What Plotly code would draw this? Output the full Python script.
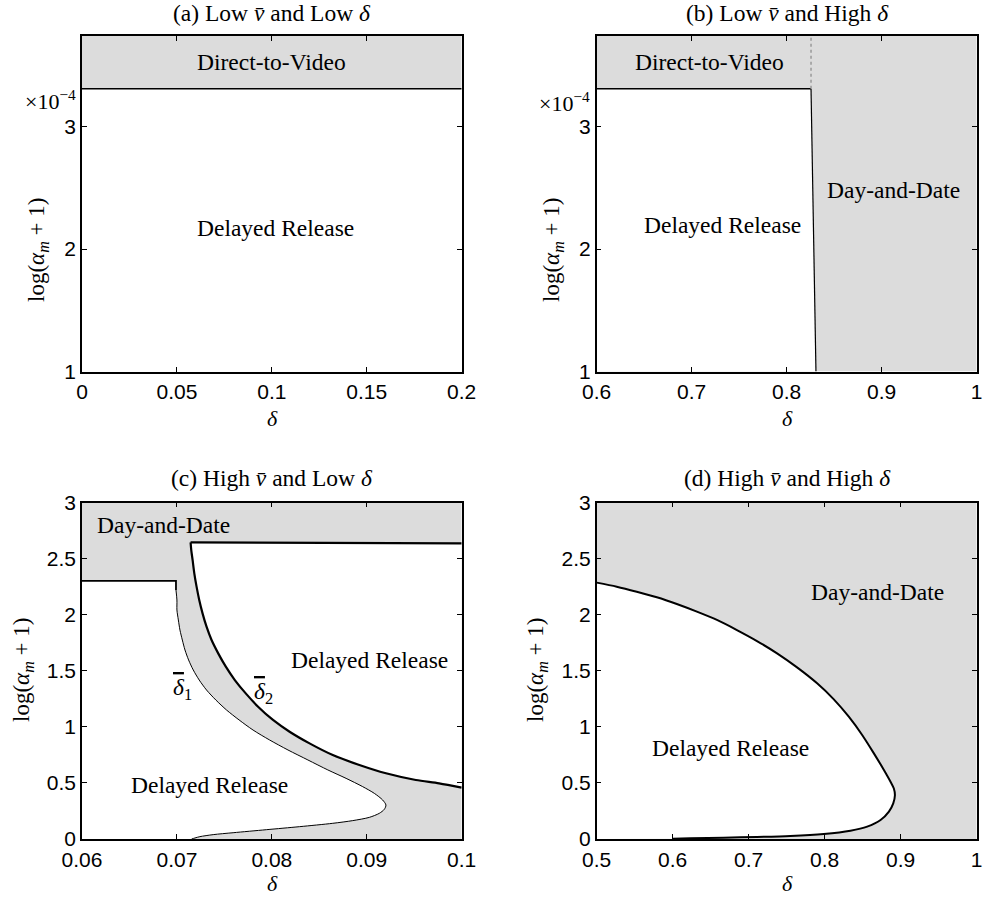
import plotly.graph_objects as go

GRAY = "#dcdcdc"
SERIF = "Liberation Serif"
SANS = "Liberation Sans"

# ---------------- data ----------------
# (a) Low v-bar, low delta  (alpha axis in units of 1e-4)
a_xrange = [0.0, 0.2]
a_yrange = [1.0, 3.74]
a_dtv = 3.31

# (b) Low v-bar, high delta
b_xrange = [0.6, 1.0]
b_yrange = [1.0, 3.74]
b_dtv = 3.31
b_dd_delta = [0.8256, 0.8308]
b_dd_alpha = [3.31, 1.0]

# (c) High v-bar, low delta
c_xrange = [0.06, 0.10]
c_yrange = [0.0, 3.0]
# delta-bar-1 boundary (starts with the flat day-and-date edge)
c_d1_delta = [0.0600, 0.0699, 0.0699, 0.0700, 0.0700, 0.07015, 0.07032, 0.07057, 0.07085,
              0.07123, 0.07172, 0.07235, 0.07312, 0.07410, 0.07522, 0.07655, 0.07802,
              0.07977, 0.08170, 0.08380, 0.08590, 0.08782, 0.08957, 0.09080, 0.09167,
              0.09202, 0.09185, 0.09132, 0.09027, 0.08852, 0.08642, 0.08292, 0.07942,
              0.07592, 0.07382, 0.07242, 0.07190, 0.07155]
c_d1_alpha = [2.302, 2.302, 2.221, 2.132, 2.043, 1.954, 1.864, 1.775, 1.686,
              1.597, 1.508, 1.418, 1.329, 1.240, 1.151, 1.062, 0.972,
              0.883, 0.794, 0.705, 0.616, 0.541, 0.467, 0.407, 0.348,
              0.303, 0.265, 0.229, 0.193, 0.164, 0.140, 0.110, 0.083,
              0.056, 0.039, 0.021, 0.009, 0.0]
# delta-bar-2 boundary (starts with the flat day-and-date edge)
c_d2_delta = [0.1000, 0.07144, 0.07151, 0.07165, 0.07183, 0.07207, 0.07235, 0.07270,
              0.07312, 0.07365, 0.07435, 0.07515, 0.07610, 0.07725, 0.07855, 0.08012,
              0.08187, 0.08397, 0.08642, 0.08922, 0.09202, 0.09517, 0.09762, 0.1000]
c_d2_alpha = [2.637, 2.646, 2.578, 2.489, 2.370, 2.251, 2.132, 2.013,
              1.894, 1.775, 1.656, 1.537, 1.418, 1.299, 1.180, 1.062,
              0.957, 0.853, 0.749, 0.660, 0.586, 0.526, 0.497, 0.458]

# (d) High v-bar, high delta
d_xrange = [0.5, 1.0]
d_yrange = [0.0, 3.0]
d_delta = [0.5000, 0.5264, 0.5527, 0.5791, 0.6054, 0.6318, 0.6582, 0.6845, 0.7109,
           0.7373, 0.7636, 0.7900, 0.8120, 0.8317, 0.8493, 0.8647, 0.8779, 0.8866,
           0.8910, 0.8924, 0.8902, 0.8845, 0.8735, 0.8559, 0.8339, 0.7988, 0.7548,
           0.7109, 0.6670, 0.6230, 0.6002]
d_alpha = [2.287, 2.251, 2.206, 2.156, 2.096, 2.028, 1.954, 1.864, 1.766,
           1.656, 1.531, 1.389, 1.246, 1.091, 0.928, 0.764, 0.616, 0.511,
           0.450, 0.390, 0.318, 0.244, 0.169, 0.110, 0.074, 0.045, 0.027,
           0.018, 0.012, 0.006, 0.003]

a_xticks = [0, 0.05, 0.1, 0.15, 0.2]
a_xtext = ["0", "0.05", "0.1", "0.15", "0.2"]
b_xticks = [0.6, 0.7, 0.8, 0.9, 1.0]
b_xtext = ["0.6", "0.7", "0.8", "0.9", "1"]
ab_yticks = [1, 2, 3]
ab_ytext = ["1", "2", "3"]
c_xticks = [0.06, 0.07, 0.08, 0.09, 0.10]
c_xtext = ["0.06", "0.07", "0.08", "0.09", "0.1"]
d_xticks = [0.5, 0.6, 0.7, 0.8, 0.9, 1.0]
d_xtext = ["0.5", "0.6", "0.7", "0.8", "0.9", "1"]
cd_yticks = [0, 0.5, 1, 1.5, 2, 2.5, 3]
cd_ytext = ["0", "0.5", "1", "1.5", "2", "2.5", "3"]

titles = ["(a) Low <i>v̄</i> and Low <i>δ</i>", "(b) Low <i>v̄</i> and High <i>δ</i>",
          "(c) High <i>v̄</i> and Low <i>δ</i>", "(d) High <i>v̄</i> and High <i>δ</i>"]

W, H = 984, 898
fig = go.Figure()


def rect(xr, yr):
    return [xr[0], xr[1], xr[1], xr[0], xr[0]], [yr[0], yr[0], yr[1], yr[1], yr[0]]


def poly(xs, ys, color, ax):
    fig.add_trace(go.Scatter(x=xs, y=ys, mode="lines", fill="toself", fillcolor=color,
                             line=dict(width=0, color=color), hoverinfo="skip",
                             showlegend=False, xaxis="x" + ax, yaxis="y" + ax))


def line(xs, ys, ax, width=1.5, color="black", dash="solid", shape="linear"):
    fig.add_trace(go.Scatter(x=xs, y=ys, mode="lines",
                             line=dict(width=width, color=color, dash=dash, shape=shape,
                                       smoothing=0.8),
                             hoverinfo="skip", showlegend=False,
                             xaxis="x" + ax, yaxis="y" + ax))


# (a)
rx, ry = rect(a_xrange, [a_dtv, a_yrange[1]])
poly(rx, ry, GRAY, "")
line(a_xrange, [a_dtv, a_dtv], "", 1.5)

# (b)
rx, ry = rect(b_xrange, b_yrange)
poly(rx, ry, GRAY, "2")
wx = [b_xrange[0], b_xrange[0]] + b_dd_delta
wy = [b_yrange[0], b_dtv] + b_dd_alpha
poly(wx, wy, "white", "2")
line([b_xrange[0], b_dd_delta[0]], [b_dtv, b_dtv], "2", 1.5)
line(b_dd_delta, b_dd_alpha, "2", 1.2)
line([b_dd_delta[0], b_dd_delta[0]], [b_dtv, b_yrange[1]], "2", 1.5, "#999999", "dot")

# (c)
rx, ry = rect(c_xrange, c_yrange)
poly(rx, ry, GRAY, "3")
poly(c_d1_delta + [c_xrange[0]], c_d1_alpha + [c_yrange[0]], "white", "3")
poly(c_d2_delta, c_d2_alpha, "white", "3")
line(c_d1_delta[:3], c_d1_alpha[:3], "3", 1.8)
line(c_d1_delta[2:], c_d1_alpha[2:], "3", 1, shape="spline")
line(c_d2_delta[:2], c_d2_alpha[:2], "3", 2.2)
line(c_d2_delta[1:], c_d2_alpha[1:], "3", 2.2, shape="spline")

# (d)
rx, ry = rect(d_xrange, d_yrange)
poly(rx, ry, GRAY, "4")
poly(d_delta + [d_xrange[0]], d_alpha + [d_yrange[0]], "white", "4")
line(d_delta, d_alpha, "4", 2, shape="spline")

# ---------------- axes ----------------
xdom = [[82 / W, 461.7 / W], [596.7 / W, 976.7 / W]]
ydom = [[1 - 371.5 / H, 1 - 36 / H], [1 - 839 / H, 1 - 502.7 / H]]

common = dict(showline=True, linecolor="black", linewidth=1.5, mirror="ticks",
              ticks="inside", ticklen=5, tickwidth=1, tickcolor="black",
              showgrid=False, zeroline=False, fixedrange=True, automargin=False,
              tickfont=dict(family=SANS, size=21, color="black"))

specs = [
    ("", xdom[0], ydom[0], a_xrange, a_yrange, a_xticks, a_xtext, ab_yticks, ab_ytext),
    ("2", xdom[1], ydom[0], b_xrange, b_yrange, b_xticks, b_xtext, ab_yticks, ab_ytext),
    ("3", xdom[0], ydom[1], c_xrange, c_yrange, c_xticks, c_xtext, cd_yticks, cd_ytext),
    ("4", xdom[1], ydom[1], d_xrange, d_yrange, d_xticks, d_xtext, cd_yticks, cd_ytext),
]
layout_axes = {}
for ax, xd, yd, xr, yr, xt, xtt, yt, ytt in specs:
    layout_axes["xaxis" + ax] = dict(common, domain=xd, range=xr, tickvals=xt, ticktext=xtt,
                                     anchor="y" + ax, ticklabelstandoff=1)
    layout_axes["yaxis" + ax] = dict(common, domain=yd, range=yr, tickvals=yt, ticktext=ytt,
                                     anchor="x" + ax)

fig.update_layout(template="none", width=W, height=H, margin=dict(l=0, r=0, t=0, b=0),
                  paper_bgcolor="white", plot_bgcolor="white", showlegend=False,
                  **layout_axes)

# ---------------- text ----------------
ann = []


def txt(x, y, s, ax, size=23.5, xanchor="center"):
    ann.append(dict(x=x, y=y, xref="x" + ax, yref="y" + ax, text=s, showarrow=False,
                    xanchor=xanchor, yanchor="middle",
                    font=dict(family=SERIF, size=size, color="black")))


def ptxt(px, py, s, size=23.5, angle=0, xanchor="center"):
    ann.append(dict(x=px / W, y=1 - py / H, xref="paper", yref="paper", text=s,
                    showarrow=False, textangle=angle, xanchor=xanchor, yanchor="middle",
                    font=dict(family=SERIF, size=size, color="black")))


dbar = '<span style="text-decoration:overline"><i>δ</i></span>'

txt(0.1, 3.53, "Direct-to-Video", "")
txt(0.102, 2.17, "Delayed Release", "")
txt(0.719, 3.53, "Direct-to-Video", "2")
txt(0.732, 2.20, "Delayed Release", "2")
txt(0.912, 2.48, "Day-and-Date", "2")
txt(0.0686, 2.80, "Day-and-Date", "3")
txt(0.0903, 1.60, "Delayed Release", "3")
txt(0.0734, 0.48, "Delayed Release", "3")
txt(0.0706, 1.34, dbar + "<sub>1</sub>", "3")
txt(0.0791, 1.30, dbar + "<sub>2</sub>", "3")
txt(0.870, 2.20, "Day-and-Date", "4")
txt(0.676, 0.81, "Delayed Release", "4")

# panel titles
ptxt(272, 13, titles[0])
ptxt(787, 13, titles[1])
ptxt(272, 478, titles[2])
ptxt(787, 478, titles[3])

# axis titles
ylab = "log(<i>α<sub>m</sub></i> + 1)"
ptxt(272, 419, "<i>δ</i>", size=22)
ptxt(787, 419, "<i>δ</i>", size=22)
ptxt(272, 883, "<i>δ</i>", size=22)
ptxt(787, 883, "<i>δ</i>", size=22)
ptxt(38, 250, ylab, size=23, angle=-90)
ptxt(553, 250, ylab, size=23, angle=-90)
ptxt(23, 670, ylab, size=23, angle=-90)
ptxt(537, 670, ylab, size=23, angle=-90)

# exponent markers
ptxt(78, 100, "×10<sup>−4</sup>", size=22, xanchor="right")
ptxt(592, 102, "×10<sup>−4</sup>", size=22, xanchor="right")

fig.update_layout(annotations=ann)
fig.write_html("out.html")
